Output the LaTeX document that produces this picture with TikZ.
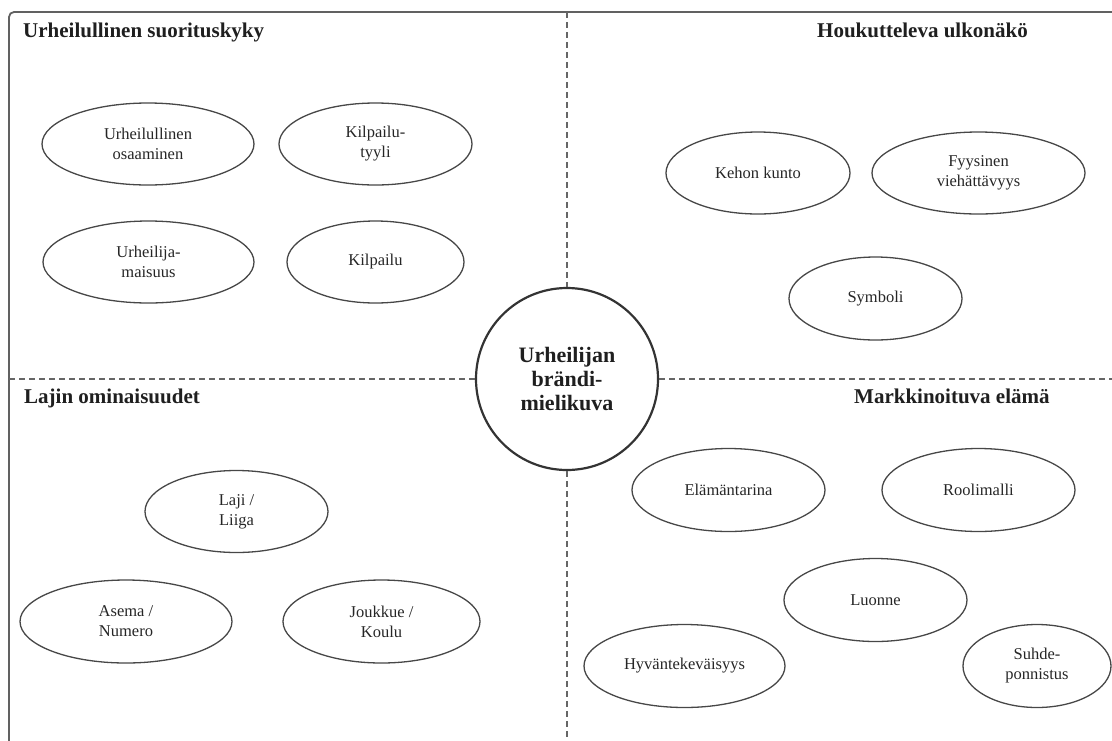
\documentclass[tikz,border=0pt]{standalone}
\usepackage{fontspec}
\setmainfont{Liberation Serif}
\usetikzlibrary{shapes.geometric}
\begin{document}
\begin{tikzpicture}[x=1pt,y=-1pt,
  oval/.style={ellipse,draw=black!72,line width=1.3pt,inner sep=0pt,align=center,text=black!85,font=\fontsize{16.5}{20}\selectfont},
  heading/.style={font=\fontsize{21}{24}\bfseries\selectfont,text=black!88,inner sep=0pt,anchor=base west},
  divider/.style={draw=black!60,line width=1.2pt,dash pattern=on 6pt off 4pt},
  frameline/.style={draw=black!62,line width=1.8pt,rounded corners=5pt},
  hub/.style={circle,draw=black!80,line width=2.2pt,minimum size=182pt,inner sep=0pt,align=center,text=black!88,font=\fontsize{22}{24}\bfseries\selectfont}]
\useasboundingbox (0,0) rectangle (1112,740);
\clip (0,0) rectangle (1112,740);
% frame
\coordinate (fbl) at (9,760);
\coordinate (ftl) at (9,12);
\coordinate (ftr) at (1130,12);
\draw[frameline] (fbl) -- (ftl) -- (ftr);
% centre
\node[hub] (c) at (567,379) {Urheilijan\\brändi-\\mielikuva};
\coordinate (dl) at (9,379);
\coordinate (dr) at (1112,379);
\coordinate (dt) at (567,12);
\coordinate (db) at (567,740);
\draw[divider] (dl) -- (c.west);
\draw[divider] (c.east) -- (dr);
\draw[divider] (dt) -- (c.north);
\draw[divider] (c.south) -- (db);
% headings
\node[heading] (h1) at (23,37) {Urheilullinen suorituskyky};
\node[heading] (h2) at (817,37) {Houkutteleva ulkonäkö};
\node[heading] (h3) at (24,403) {Lajin ominaisuudet};
\node[heading] (h4) at (854,403) {Markkinoituva elämä};
% top left
\node[oval,minimum width=212pt,minimum height=82pt] (uo) at (148,144) {Urheilullinen\\osaaminen};
\node[oval,minimum width=193pt,minimum height=82pt] (kt) at (375.5,144) {Kilpailu-\\tyyli};
\node[oval,minimum width=211pt,minimum height=82pt] (um) at (148.5,262) {Urheilija-\\maisuus};
\node[oval,minimum width=177pt,minimum height=82pt] (ki) at (375.5,262) {Kilpailu};
% top right
\node[oval,minimum width=184pt,minimum height=82pt] (kk) at (758,173) {Kehon kunto};
\node[oval,minimum width=213pt,minimum height=82pt] (fv) at (978.5,173) {Fyysinen\\viehättävyys};
\node[oval,minimum width=173pt,minimum height=83pt] (sy) at (875.5,298.5) {Symboli};
% bottom left
\node[oval,minimum width=183pt,minimum height=82pt] (ll) at (236.5,511.5) {Laji /\\Liiga};
\node[oval,minimum width=212pt,minimum height=83pt] (an) at (126,621.5) {Asema /\\Numero};
\node[oval,minimum width=197pt,minimum height=83pt] (jk) at (381.5,621.5) {Joukkue /\\Koulu};
% bottom right
\node[oval,minimum width=193pt,minimum height=83pt] (el) at (728.5,490) {Elämäntarina};
\node[oval,minimum width=193pt,minimum height=83pt] (ro) at (978.5,490) {Roolimalli};
\node[oval,minimum width=183pt,minimum height=83pt] (lu) at (875.5,600) {Luonne};
\node[oval,minimum width=201pt,minimum height=83pt] (hy) at (684.5,666) {Hyväntekeväisyys};
\node[oval,minimum width=148pt,minimum height=83pt] (su) at (1037,666) {Suhde-\\ponnistus};
\end{tikzpicture}
\end{document}
